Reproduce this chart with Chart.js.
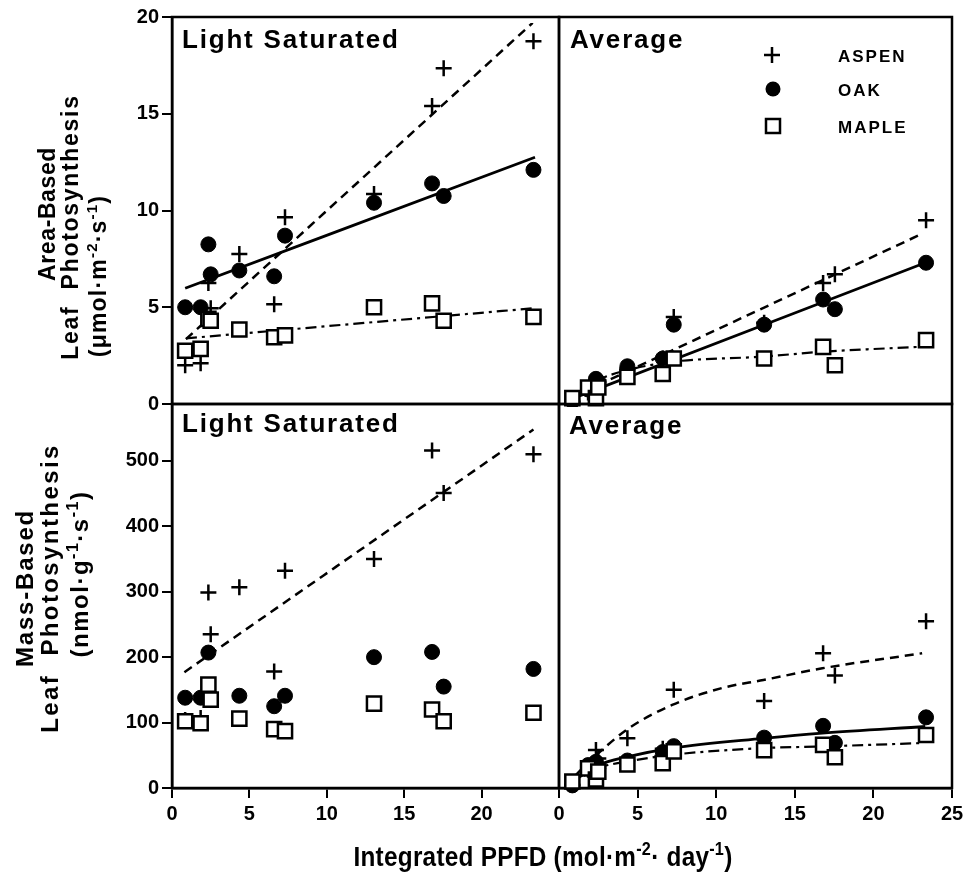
<!DOCTYPE html>
<html>
<head>
<meta charset="utf-8">
<script src="https://cdn.jsdelivr.net/npm/chart.js@4.4.1/dist/chart.umd.min.js"></script>
<style>
  body { margin: 0; background: #fff; }
  #wrap { position: relative; width: 965px; height: 878px; overflow: hidden; }
  canvas { position: absolute; }
</style>
</head>
<body>
<div id="wrap">
  <canvas id="cTL" width="562" height="420" style="left:0px;top:0px"></canvas>
  <canvas id="cTR" width="409" height="407" style="left:556px;top:0px"></canvas>
  <canvas id="cBL" width="965" height="477" style="left:0px;top:401px"></canvas>
  <canvas id="cBR" width="429" height="477" style="left:536px;top:401px"></canvas>
</div>
<script>
// Photosynthesis vs integrated PPFD - aspen, oak, maple (4 panels)

// integrated PPFD of the 11 sites (mol m-2 day-1)
const sitePPFD = [0.85, 1.85, 2.35, 2.5, 4.35, 6.6, 7.3, 13.05, 16.8, 17.55, 23.35];

// area based, light saturated (umol m-2 s-1)
const aspenAreaSat = [2.0, 2.1, 6.25, 4.95, 7.75, 5.15, 9.65, 10.85, 15.4, 17.35, 18.75];
const oakAreaSat = [5.0, 5.0, 8.25, 6.7, 6.9, 6.6, 8.7, 10.4, 11.4, 10.75, 12.1];
const mapleAreaSat = [2.75, 2.85, 4.4, 4.3, 3.85, 3.45, 3.55, 5.0, 5.2, 4.3, 4.5];

// area based, average
const aspenAreaAvg = [0.1, 0.6, 1.0, 1.1, 1.85, 2.35, 4.5, 4.2, 6.25, 6.7, 9.5];
const oakAreaAvg = [0.15, 0.75, 1.3, 1.15, 1.95, 2.35, 4.1, 4.1, 5.4, 4.9, 7.3];
const mapleAreaAvg = [0.3, 0.85, 0.3, 0.85, 1.4, 1.55, 2.35, 2.35, 2.95, 2.0, 3.3];

// mass based, light saturated (nmol g-1 s-1)
const aspenMassSat = [104, 107, 299, 235, 307, 178, 332, 350, 516, 451, 510];
const oakMassSat = [138, 138, 207, 140, 141, 125, 141, 200, 208, 155, 182];
const mapleMassSat = [102, 99, 158, 135, 106, 90, 87, 129, 120, 102, 115];

// mass based, average
const aspenMassAvg = [5, 28, 58, 45, 76, 60, 150, 133, 206, 172, 255];
const oakMassAvg = [4, 35, 40, 30, 42, 55, 64, 77, 95, 69, 108];
const mapleMassAvg = [10, 30, 13, 25, 36, 38, 56, 58, 66, 47, 81];

// fitted lines / curves
const fitAspenAreaSatX = [0.9, 23.3];
const fitAspenAreaSatY = [3.35, 19.7];
const fitOakAreaSatX = [0.85, 23.45];
const fitOakAreaSatY = [5.98, 12.75];
const fitMapleAreaSatX = [0.9, 23.25];
const fitMapleAreaSatY = [3.39, 4.94];

const fitAspenAreaAvgX = [0.7, 23.1];
const fitAspenAreaAvgY = [0.3, 8.8];
const fitOakAreaAvgX = [0.6, 23.3];
const fitOakAreaAvgY = [0.2, 7.3];
const fitMapleAreaAvgX = [0.7, 2.5, 4.4, 7.3, 13.0, 16.75, 23.1];
const fitMapleAreaAvgY = [0.29, 1.24, 1.76, 2.19, 2.45, 2.7, 2.96];

const fitAspenMassSatX = [0.8, 23.35];
const fitAspenMassSatY = [177, 548];

const fitAspenMassAvgX = [1.0, 1.8, 2.4, 4.3, 7.2, 10.4, 13.0, 16.75, 23.1];
const fitAspenMassAvgY = [18, 38, 51, 89, 127, 153, 165, 183, 206];
const fitOakMassAvgX = [0.6, 2.5, 4.4, 7.2, 13.0, 16.75, 23.3];
const fitOakMassAvgY = [5, 35, 48, 61, 76, 84, 94];
const fitMapleMassAvgX = [0.7, 2.5, 4.4, 7.2, 13.0, 16.75, 23.1];
const fitMapleMassAvgY = [6, 30.5, 40.6, 50.8, 61, 63.5, 68.7];

// axis ticks
const xTicksLeft = [0, 5, 10, 15, 20];
const xTicksRight = [0, 5, 10, 15, 20, 25];
const yTicksArea = [0, 5, 10, 15, 20];
const yTicksMass = [0, 100, 200, 300, 400, 500];

const SANS = '"Liberation Sans", Arial, Helvetica, sans-serif';

Chart.defaults.font.family = SANS;
Chart.defaults.color = "#000";

function xy(xs, ys) {
  return xs.map((x, i) => ({ x: x, y: ys[i] }));
}

function aspenSet(ys) {
  return {
    label: "ASPEN",
    data: xy(sitePPFD, ys),
    pointStyle: "cross",
    pointRadius: 8,
    pointBorderWidth: 2.5,
    pointBorderColor: "#000",
    pointBackgroundColor: "#000",
    order: 3,
    clip: false,
  };
}

function oakSet(ys) {
  return {
    label: "OAK",
    data: xy(sitePPFD, ys),
    pointStyle: "circle",
    pointRadius: 7.5,
    pointBorderWidth: 1,
    pointBorderColor: "#000",
    pointBackgroundColor: "#000",
    order: 2,
    clip: false,
  };
}

function mapleSet(ys) {
  return {
    label: "MAPLE",
    data: xy(sitePPFD, ys),
    pointStyle: "rect",
    pointRadius: 10,
    pointBorderWidth: 2.5,
    pointBorderColor: "#000",
    pointBackgroundColor: "#fff",
    order: 1,
    clip: false,
  };
}

function fitSet(xs, ys, dash, width) {
  return {
    data: xy(xs, ys),
    showLine: true,
    pointRadius: 0,
    borderColor: "#000",
    borderWidth: width,
    borderDash: dash,
    fill: false,
    cubicInterpolationMode: "monotone",
    order: 10,
  };
}

const DASH = [9, 6];
const DASHDOT = [11, 5, 3, 5];

// no extra room for overhanging tick labels, panels must butt together
function noOverhang(s) {
  s.paddingLeft = 0;
  s.paddingRight = 0;
  s.paddingTop = 0;
  s.paddingBottom = 0;
}

function xAxis(ticks, show) {
  return {
    type: "linear",
    min: 0,
    max: 25,
    display: show,
    afterBuildTicks: (s) => {
      s.ticks = ticks.map((v) => ({ value: v }));
    },
    afterFit: (s) => {
      s.height = show ? 90 : 0;
      noOverhang(s);
    },
    grid: {
      drawOnChartArea: false,
      drawTicks: true,
      tickLength: 10,
      color: "#000",
      lineWidth: 2,
    },
    border: { display: true, color: "#000", width: 2.5 },
    ticks: {
      color: "#000",
      padding: 4,
      maxRotation: 0,
      font: { size: 20, weight: "bold" },
    },
  };
}

function yAxis(max, ticks, show) {
  return {
    type: "linear",
    min: 0,
    max: max,
    display: show,
    afterBuildTicks: (s) => {
      s.ticks = ticks.map((v) => ({ value: v }));
    },
    afterFit: (s) => {
      s.width = show ? 172 : 0;
      noOverhang(s);
    },
    grid: {
      drawOnChartArea: false,
      drawTicks: true,
      tickLength: 10,
      color: "#000",
      lineWidth: 2,
    },
    border: { display: true, color: "#000", width: 2.5 },
    ticks: {
      color: "#000",
      padding: 3,
      font: { size: 20, weight: "bold" },
    },
  };
}

function txt(ctx, s, x, y, size, ls) {
  ctx.font = "bold " + size + "px " + SANS;
  ctx.letterSpacing = ls + "px";
  ctx.textAlign = "left";
  ctx.textBaseline = "alphabetic";
  ctx.fillStyle = "#000";
  ctx.fillText(s, x, y);
  ctx.letterSpacing = "0px";
}

// text with superscript parts, centred on cx
function rich(ctx, parts, cx, y, size, ls) {
  const supSize = Math.round(size * 0.66);
  ctx.letterSpacing = (ls || 0) + "px";
  ctx.textAlign = "left";
  ctx.textBaseline = "alphabetic";
  ctx.fillStyle = "#000";
  let w = 0;
  const ws = parts.map((p) => {
    ctx.font = "bold " + (p[1] ? supSize : size) + "px " + SANS;
    const m = ctx.measureText(p[0]).width;
    w += m;
    return m;
  });
  let x = cx - w / 2;
  parts.forEach((p, i) => {
    ctx.font = "bold " + (p[1] ? supSize : size) + "px " + SANS;
    ctx.fillText(p[0], x, p[1] ? y - size * 0.4 : y);
    x += ws[i];
  });
  ctx.letterSpacing = "0px";
}

function vrich(ctx, parts, bx, cy, size, ls) {
  ctx.save();
  ctx.translate(bx, cy);
  ctx.rotate(-Math.PI / 2);
  rich(ctx, parts, 0, 0, size, ls);
  ctx.restore();
}

function marker(ctx, style, x, y) {
  ctx.save();
  ctx.strokeStyle = "#000";
  ctx.fillStyle = "#000";
  ctx.lineWidth = 2.5;
  ctx.beginPath();
  if (style === "cross") {
    ctx.moveTo(x - 8, y);
    ctx.lineTo(x + 8, y);
    ctx.moveTo(x, y - 8);
    ctx.lineTo(x, y + 8);
    ctx.stroke();
  } else if (style === "circle") {
    ctx.arc(x, y, 7.5, 0, Math.PI * 2);
    ctx.fill();
  } else {
    ctx.fillStyle = "#fff";
    ctx.rect(x - 7, y - 7, 14, 14);
    ctx.fill();
    ctx.stroke();
  }
  ctx.restore();
}

function decor(ox, oy, draw) {
  return {
    id: "decor",
    beforeDatasetsDraw(chart) {
      const a = chart.chartArea;
      const ctx = chart.ctx;
      ctx.save();
      ctx.strokeStyle = "#000";
      ctx.lineWidth = 2.5;
      ctx.strokeRect(a.left, a.top, a.right - a.left, a.bottom - a.top);
      ctx.restore();
    },
    afterDraw(chart) {
      const ctx = chart.ctx;
      ctx.save();
      ctx.translate(-ox, -oy);
      draw(ctx);
      ctx.restore();
    },
  };
}

function makePanel(id, ox, oy, datasets, scales, padding, draw) {
  return new Chart(document.getElementById(id), {
    type: "scatter",
    data: { datasets: datasets },
    options: {
      responsive: false,
      animation: false,
      events: [],
      layout: { padding: padding, autoPadding: false },
      plugins: { legend: { display: false }, tooltip: { enabled: false } },
      scales: scales,
    },
    plugins: [decor(ox, oy, draw)],
  });
}

// top left - area based, light saturated
makePanel(
  "cTL", 0, 0,
  [
    fitSet(fitAspenAreaSatX, fitAspenAreaSatY, DASH, 2.5),
    fitSet(fitOakAreaSatX, fitOakAreaSatY, [], 2.8),
    fitSet(fitMapleAreaSatX, fitMapleAreaSatY, DASHDOT, 2.2),
    aspenSet(aspenAreaSat),
    oakSet(oakAreaSat),
    mapleSet(mapleAreaSat),
  ],
  { x: xAxis(xTicksLeft, false), y: yAxis(20, yTicksArea, true) },
  { left: 0, top: 17, right: 3, bottom: 16 },
  (ctx) => {
    txt(ctx, "Light Saturated", 182, 48, 26, 1.8);
    vrich(ctx, [["Area-Based", false]], 55, 214, 23, 0.6);
    vrich(ctx, [["Leaf  Photosynthesis", false]], 78, 227, 23, 1.7);
    vrich(
      ctx,
      [["(\u03bcmol\u00b7m", false], ["-2", true], ["\u00b7s", false], ["-1", true], [")", false]],
      106, 276, 23, 1.2
    );
  }
);

// top right - area based, average
makePanel(
  "cTR", 556, 0,
  [
    fitSet(fitAspenAreaAvgX, fitAspenAreaAvgY, DASH, 2.5),
    fitSet(fitOakAreaAvgX, fitOakAreaAvgY, [], 2.8),
    fitSet(fitMapleAreaAvgX, fitMapleAreaAvgY, DASHDOT, 2.2),
    aspenSet(aspenAreaAvg),
    oakSet(oakAreaAvg),
    mapleSet(mapleAreaAvg),
  ],
  { x: xAxis(xTicksRight, false), y: yAxis(20, yTicksArea, false) },
  { left: 3, top: 17, right: 13, bottom: 3 },
  (ctx) => {
    txt(ctx, "Average", 570, 48, 26, 1.8);
    marker(ctx, "cross", 772, 55);
    marker(ctx, "circle", 773, 89);
    marker(ctx, "rect", 773, 126);
    txt(ctx, "ASPEN", 838, 62, 17, 2);
    txt(ctx, "OAK", 838, 96, 17, 2);
    txt(ctx, "MAPLE", 838, 133, 17, 2);
  }
);

// bottom left - mass based, light saturated
makePanel(
  "cBL", 0, 401,
  [
    fitSet(fitAspenMassSatX, fitAspenMassSatY, DASH, 2.5),
    aspenSet(aspenMassSat),
    oakSet(oakMassSat),
    mapleSet(mapleMassSat),
  ],
  { x: xAxis(xTicksLeft, true), y: yAxis(587, yTicksMass, true) },
  { left: 0, top: 3, right: 406, bottom: 0 },
  (ctx) => {
    txt(ctx, "Light Saturated", 182, 432, 26, 1.8);
    vrich(ctx, [["Mass-Based", false]], 33, 588, 24, 1.8);
    vrich(ctx, [["Leaf  Photosynthesis", false]], 58, 588, 24, 2.4);
    vrich(
      ctx,
      [["(nmol\u00b7g", false], ["-1", true], ["\u00b7s", false], ["-1", true], [")", false]],
      88, 574, 24, 1.5
    );
    // x axis title, slightly condensed like the original type
    ctx.save();
    ctx.translate(543, 866);
    ctx.scale(0.9, 1);
    rich(
      ctx,
      [["Integrated PPFD (mol\u00b7m", false], ["-2", true], ["\u00b7 day", false], ["-1", true], [")", false]],
      0, 0, 27, 0.3
    );
    ctx.restore();
  }
);

// bottom right - mass based, average
makePanel(
  "cBR", 536, 401,
  [
    fitSet(fitAspenMassAvgX, fitAspenMassAvgY, DASH, 2.5),
    fitSet(fitOakMassAvgX, fitOakMassAvgY, [], 2.8),
    fitSet(fitMapleMassAvgX, fitMapleMassAvgY, DASHDOT, 2.2),
    aspenSet(aspenMassAvg),
    oakSet(oakMassAvg),
    mapleSet(mapleMassAvg),
  ],
  { x: xAxis(xTicksRight, true), y: yAxis(587, yTicksMass, false) },
  { left: 23, top: 3, right: 13, bottom: 0 },
  (ctx) => {
    txt(ctx, "Average", 569, 434, 26, 1.8);
  }
);
</script>
</body>
</html>
